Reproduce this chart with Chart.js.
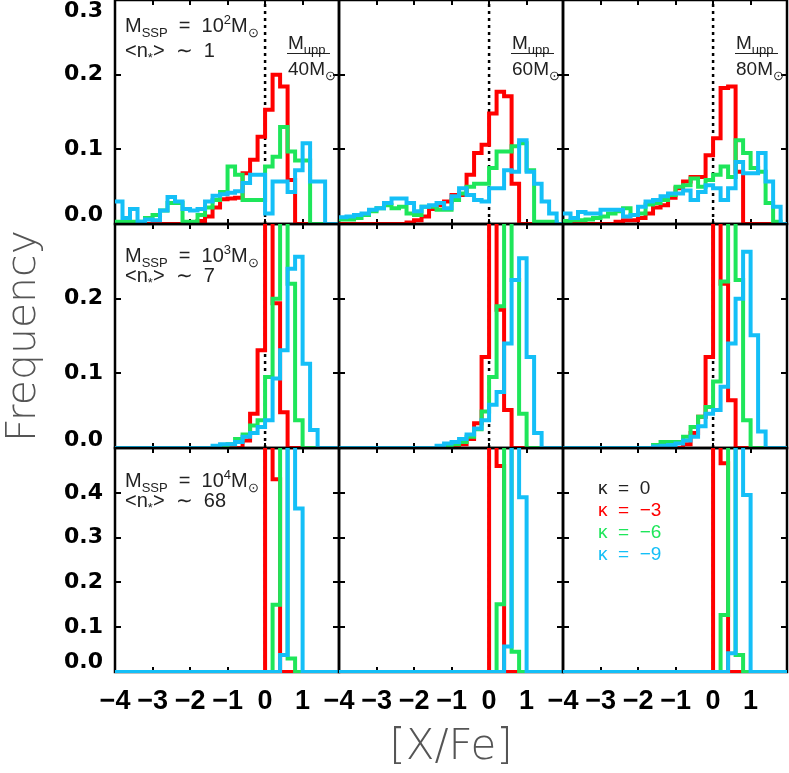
<!DOCTYPE html>
<html><head><meta charset="utf-8">
<script src="https://cdn.jsdelivr.net/npm/chart.js@4.4.1/dist/chart.umd.min.js"></script>
<style>
html,body{margin:0;padding:0;background:#fff;}
#fig{position:relative;width:789px;height:773px;overflow:hidden;background:#fff;}
#fig canvas{position:absolute;}
.ann{position:absolute;font-family:"Liberation Sans",Arial,sans-serif;font-size:20px;color:#222;white-space:pre;line-height:20px;}
.ann sub,.ann sup{font-size:13px;line-height:0;}
.ann sub{vertical-align:-5px;}
.ann sup{vertical-align:8px;}
.frac{font-size:19px;}
.rule{position:absolute;height:0;border-top:1.5px solid #222;}
.leg{position:absolute;font-family:"Liberation Sans",Arial,sans-serif;font-size:19px;white-space:pre;line-height:19px;}
</style></head>
<body><div id="fig"></div>
<script>
// ---- bins (lower edges + final upper edge) ----
const binEdges = [-4.0,-3.8,-3.6,-3.4,-3.2,-3.0,-2.8,-2.6,-2.4,-2.2,-2.0,-1.8,-1.6,-1.4,-1.2,-1.0,-0.8,-0.6,-0.4,-0.2,0.0,0.2,0.4,0.6,0.8,1.0,1.2,1.4,1.6,1.8,2.0];

// ---- tick labels ----
const xTickValues = [-4,-3,-2,-1,0,1];
const xTickLabels = ['\u22124','\u22123','\u22122','\u22121','0','1'];
const yLabelsTop = ['0.0','0.1','0.2','0.3'];
const yLabelsMid = ['0.0','0.1','0.2'];
const yLabelsBot = ['0.0','0.1','0.2','0.3','0.4'];

// ---- M_SSP = 1e2, M_upp = 40 / 60 / 80 ----
const red_1e2_40   = [0,0,0,0,0,0,0,0,0,0,0,0.004,0.010,0.022,0.033,0.034,0.035,0.068,0.086,0.117,0.153,0.200,0.184,0.059,0,0,0,0,0,0];
const green_1e2_40 = [0.003,0.003,0.003,0.003,0.008,0.012,0.018,0.028,0.028,0.003,0.003,0.012,0.022,0.032,0.043,0.077,0.066,0.032,0.032,0.032,0.077,0.090,0.130,0.097,0.085,0.085,0,0,0,0];
const cyan_1e2_40  = [0.030,0.008,0.020,0.003,0.006,0.005,0.018,0.036,0.030,0.020,0.018,0.020,0.030,0.038,0.040,0.042,0.044,0.055,0.066,0.066,0.014,0.057,0.057,0.043,0.072,0.108,0.057,0.057,0,0];
const red_1e2_60   = [0,0,0,0,0,0,0,0,0,0.002,0.005,0.010,0.020,0.025,0.030,0.039,0.039,0.066,0.095,0.106,0.148,0.177,0.171,0.054,0,0,0,0,0,0];
const green_1e2_60 = [0.006,0.006,0.008,0.012,0.017,0.021,0.025,0.021,0.023,0.014,0.012,0.023,0.023,0.019,0.019,0.032,0.041,0.050,0.054,0.054,0.075,0.097,0.097,0.104,0.108,0.072,0.003,0.003,0.003,0];
const cyan_1e2_60  = [0.009,0.010,0.012,0.014,0.019,0.021,0.028,0.034,0.034,0.028,0.017,0.023,0.025,0.028,0.021,0.037,0.048,0.039,0.032,0.030,0.048,0.048,0.072,0.070,0.112,0.070,0.054,0.030,0.014,0];
const red_1e2_80   = [0,0,0,0,0,0,0,0.003,0.005,0.005,0.008,0.014,0.022,0.025,0.035,0.048,0.057,0.063,0.063,0.092,0.115,0.182,0.184,0.070,0,0,0,0,0,0];
const green_1e2_80 = [0.004,0.005,0.005,0.006,0.008,0.010,0.014,0.017,0.021,0.012,0.014,0.026,0.028,0.032,0.039,0.050,0.052,0.061,0.050,0.059,0.066,0.077,0.063,0.112,0.095,0.075,0.070,0.028,0.003,0];
const cyan_1e2_80  = [0.014,0.008,0.016,0.014,0.014,0.019,0.019,0.019,0.010,0.012,0.023,0.030,0.032,0.037,0.041,0.041,0.045,0.032,0.043,0.052,0.048,0.032,0.048,0.083,0.068,0.068,0.095,0.057,0.023,0];

// ---- M_SSP = 1e3 ----
const red_1e3_40   = [0,0,0,0,0,0,0,0,0,0,0,0,0,0,0,0,0,0.010,0.046,0.131,0.38,0.194,0.048,0,0,0,0,0,0,0];
const green_1e3_40 = [0,0,0,0,0,0,0,0,0,0,0,0,0,0,0,0.005,0.012,0.018,0.030,0.037,0.095,0.200,0.38,0.220,0.037,0,0,0,0,0];
const cyan_1e3_40  = [0,0,0,0,0,0,0,0,0,0,0,0,0,0.003,0.005,0.005,0.008,0.015,0.020,0.028,0.037,0.093,0.131,0.240,0.256,0.113,0.024,0,0,0];
const red_1e3_60   = [0,0,0,0,0,0,0,0,0,0,0,0,0,0,0,0,0.005,0.012,0.033,0.122,0.38,0.185,0.051,0,0,0,0,0,0,0];
const green_1e3_60 = [0,0,0,0,0,0,0,0,0,0,0,0,0,0,0.002,0.005,0.008,0.015,0.025,0.049,0.095,0.190,0.38,0.225,0.046,0,0,0,0,0];
const cyan_1e3_60  = [0,0,0,0,0,0,0,0,0,0,0,0,0,0.003,0.006,0.008,0.012,0.018,0.026,0.037,0.058,0.075,0.140,0.225,0.254,0.122,0.020,0,0,0];
const red_1e3_80   = [0,0,0,0,0,0,0,0,0,0,0,0,0,0,0,0,0.005,0.020,0.042,0.122,0.38,0.220,0.064,0,0,0,0,0,0,0];
const green_1e3_80 = [0,0,0,0,0,0,0,0,0,0,0,0,0.004,0.008,0.008,0.008,0.015,0.028,0.042,0.055,0.089,0.223,0.38,0.225,0.037,0,0,0,0,0];
const cyan_1e3_80  = [0,0,0,0,0,0,0,0,0,0,0,0,0.002,0.003,0.004,0.006,0.010,0.015,0.029,0.046,0.051,0.082,0.140,0.200,0.263,0.151,0.022,0,0,0];

// ---- M_SSP = 1e4 ----
const red_1e4_40   = [0,0,0,0,0,0,0,0,0,0,0,0,0,0,0,0,0,0,0,0,0.6,0.430,0,0,0,0,0,0,0,0];
const green_1e4_40 = [0,0,0,0,0,0,0,0,0,0,0,0,0,0,0,0,0,0,0,0,0,0.150,0.6,0.030,0,0,0,0,0,0];
const cyan_1e4_40  = [0,0,0,0,0,0,0,0,0,0,0,0,0,0,0,0,0,0,0,0,0,0,0.038,0.6,0.365,0,0,0,0,0];
const red_1e4_60   = [0,0,0,0,0,0,0,0,0,0,0,0,0,0,0,0,0,0,0,0,0.6,0.460,0,0,0,0,0,0,0,0];
const green_1e4_60 = [0,0,0,0,0,0,0,0,0,0,0,0,0,0,0,0,0,0,0,0,0,0.151,0.6,0.045,0,0,0,0,0,0];
const cyan_1e4_60  = [0,0,0,0,0,0,0,0,0,0,0,0,0,0,0,0,0,0,0,0,0,0,0.057,0.6,0.390,0,0,0,0,0];
const red_1e4_80   = [0,0,0,0,0,0,0,0,0,0,0,0,0,0,0,0,0,0,0,0,0.6,0.466,0,0,0,0,0,0,0,0];
const green_1e4_80 = [0,0,0,0,0,0,0,0,0,0,0,0,0,0,0,0,0,0,0,0,0,0.127,0.6,0.038,0,0,0,0,0,0];
const cyan_1e4_80  = [0,0,0,0,0,0,0,0,0,0,0,0,0,0,0,0,0,0,0,0,0,0,0.042,0.6,0.395,0,0,0,0,0];

// ---- styling ----
const RED = '#ff0000', GREEN = '#1ee65a', CYAN = '#14bff7';
const L = 115, R = 2, T = 2, B = 101, PW = 224, PH = 224;

const rows = [
  {max: 0.3, labels: yLabelsTop, marks: [0.1, 0.2], shiftLo: 9, shiftHi: 11},
  {max: 0.3, labels: yLabelsMid, marks: [0.1, 0.2], shiftLo: 8,  shiftHi: 0},
  {max: 0.5, labels: yLabelsBot, marks: [0.1, 0.2, 0.3, 0.4], shiftLo: 10, shiftHi: 0}
];
const panels = [
  {row:0,col:0,red:red_1e2_40,green:green_1e2_40,cyan:cyan_1e2_40},
  {row:0,col:1,red:red_1e2_60,green:green_1e2_60,cyan:cyan_1e2_60},
  {row:0,col:2,red:red_1e2_80,green:green_1e2_80,cyan:cyan_1e2_80},
  {row:1,col:0,red:red_1e3_40,green:green_1e3_40,cyan:cyan_1e3_40},
  {row:1,col:1,red:red_1e3_60,green:green_1e3_60,cyan:cyan_1e3_60},
  {row:1,col:2,red:red_1e3_80,green:green_1e3_80,cyan:cyan_1e3_80},
  {row:2,col:0,red:red_1e4_40,green:green_1e4_40,cyan:cyan_1e4_40},
  {row:2,col:1,red:red_1e4_60,green:green_1e4_60,cyan:cyan_1e4_60},
  {row:2,col:2,red:red_1e4_80,green:green_1e4_80,cyan:cyan_1e4_80}
];

function steps(vals){
  const pts = [];
  vals.forEach((v,k) => { pts.push({x: binEdges[k], y: v}); pts.push({x: binEdges[k+1], y: v}); });
  return pts;
}

const framePlugin = {
  id: 'frame',
  beforeDatasetsDraw(chart, args, o){
    const {ctx, chartArea: a} = chart;
    const xs = chart.scales.x, ys = chart.scales.y;
    ctx.save();
    ctx.strokeStyle = '#000'; ctx.lineWidth = 2.5;
    ctx.strokeRect(a.left, a.top, a.right - a.left, a.bottom - a.top);
    ctx.lineWidth = 2;
    ctx.beginPath();
    xTickValues.forEach(v => {
      const px = Math.round(xs.getPixelForValue(v));
      ctx.moveTo(px, a.bottom); ctx.lineTo(px, a.bottom - 5);
      ctx.moveTo(px, a.top); ctx.lineTo(px, a.top + 5);
    });
    o.yMarks.forEach(v => {
      const py = Math.round(ys.getPixelForValue(v));
      ctx.moveTo(a.left, py); ctx.lineTo(a.left + 6, py);
      ctx.moveTo(a.right, py); ctx.lineTo(a.right - 6, py);
    });
    ctx.stroke();
    ctx.restore();
  }
};

const fig = document.getElementById('fig');
const common = {borderWidth: 4, pointRadius: 0, fill: false, tension: 0,
  borderJoinStyle: 'miter', borderCapStyle: 'butt', clip: {left: 0, top: 0, right: 0, bottom: 1}};

panels.forEach(p => {
  const row = rows[p.row];
  const cv = document.createElement('canvas');
  cv.width = L + PW + R; cv.height = T + PH + B;
  cv.style.left = (115 + PW * p.col - L) + 'px';
  cv.style.top = (PH * p.row - T) + 'px';
  fig.appendChild(cv);
  const perPx = row.max / PH;
  const labelAt = row.labels.map((s, i) => {
    let v = parseFloat(s);
    if (i === 0) v += row.shiftLo * perPx;
    if (i === row.labels.length - 1 && row.shiftHi) v -= row.shiftHi * perPx;
    return v;
  });
  new Chart(cv, {
    type: 'line',
    data: {datasets: [
      Object.assign({data: steps(p.cyan), borderColor: CYAN}, common),
      Object.assign({data: steps(p.green), borderColor: GREEN}, common),
      Object.assign({data: steps(p.red), borderColor: RED}, common),
      {data: [{x: 0, y: 0}, {x: 0, y: row.max}], borderColor: '#000', borderWidth: 2.5,
       borderDash: [3, 4], pointRadius: 0, fill: false, clip: 0}
    ]},
    options: {
      responsive: false, animation: false, devicePixelRatio: 1, events: [],
      layout: {padding: {top: T, right: R, left: 0, bottom: 0}},
      plugins: {legend: {display: false}, tooltip: {enabled: false}, frame: {yMarks: row.marks}},
      scales: {
        x: {
          type: 'linear', min: -4, max: 1.97, position: 'bottom',
          afterBuildTicks: s => { s.ticks = xTickValues.map(v => ({value: v})); },
          afterFit: s => { s.height = B; s.paddingLeft = 0; s.paddingRight = 0; s.paddingTop = 0; s.paddingBottom = 0; },
          grid: {display: false, drawTicks: false}, border: {display: false},
          ticks: {display: p.row === 2, autoSkip: false, maxRotation: 0, minRotation: 0, padding: 13,
                  color: '#000', font: {family: 'Liberation Sans', size: 27, weight: 'bold'},
                  callback: (v, i) => xTickLabels[i]},
          title: {display: p.row === 2 && p.col === 1, text: '[X/Fe]', color: '#555',
                  font: {family: 'DejaVu Sans', size: 42, weight: '200'}, padding: 0}
        },
        y: {
          type: 'linear', min: 0, max: row.max, position: 'left',
          afterBuildTicks: s => { s.ticks = labelAt.map(v => ({value: v})); },
          afterFit: s => { s.width = L; s.paddingLeft = 0; s.paddingRight = 0; s.paddingTop = 0; s.paddingBottom = 0; },
          grid: {display: false, drawTicks: false}, border: {display: false},
          ticks: {display: p.col === 0, autoSkip: false, padding: 12, color: '#000',
                  font: {family: 'DejaVu Sans', size: 22, weight: 'bold'},
                  callback: (v, i) => row.labels[i]},
          title: {display: p.col === 0 && p.row === 1, text: 'Frequency', color: '#555',
                  font: {family: 'DejaVu Sans', size: 41, weight: '200'}, padding: 0}
        }
      }
    },
    plugins: [framePlugin]
  });
});

// ---- in-panel annotations (real text) ----
const annHTML = `
<div class="ann" style="left:125px;top:15px">M<sub>SSP</sub>  =  10<sup>2</sup>M<sub>⊙</sub></div>
<div class="ann" style="left:125px;top:40px">&lt;n<sub>*</sub>&gt;  ∼  1</div>
<div class="ann" style="left:125px;top:245px">M<sub>SSP</sub>  =  10<sup>3</sup>M<sub>⊙</sub></div>
<div class="ann" style="left:125px;top:265px">&lt;n<sub>*</sub>&gt;  ∼  7</div>
<div class="ann" style="left:125px;top:470px">M<sub>SSP</sub>  =  10<sup>4</sup>M<sub>⊙</sub></div>
<div class="ann" style="left:125px;top:490px">&lt;n<sub>*</sub>&gt;  ∼  68</div>
<div class="ann frac" style="left:288px;top:33px">M<sub>upp</sub></div><div class="rule" style="left:287px;top:53px;width:43px"></div><div class="ann frac" style="left:288px;top:59px">40M<sub>⊙</sub></div>
<div class="ann frac" style="left:512px;top:33px">M<sub>upp</sub></div><div class="rule" style="left:511px;top:53px;width:43px"></div><div class="ann frac" style="left:512px;top:59px">60M<sub>⊙</sub></div>
<div class="ann frac" style="left:736px;top:33px">M<sub>upp</sub></div><div class="rule" style="left:735px;top:53px;width:43px"></div><div class="ann frac" style="left:736px;top:59px">80M<sub>⊙</sub></div>
<div class="leg" style="left:598px;top:478px;color:#222">κ  =  0</div>
<div class="leg" style="left:598px;top:500px;color:${RED}">κ  =  −3</div>
<div class="leg" style="left:598px;top:522px;color:${GREEN}">κ  =  −6</div>
<div class="leg" style="left:598px;top:544px;color:${CYAN}">κ  =  −9</div>`;
fig.insertAdjacentHTML('beforeend', annHTML);
</script></body></html>
